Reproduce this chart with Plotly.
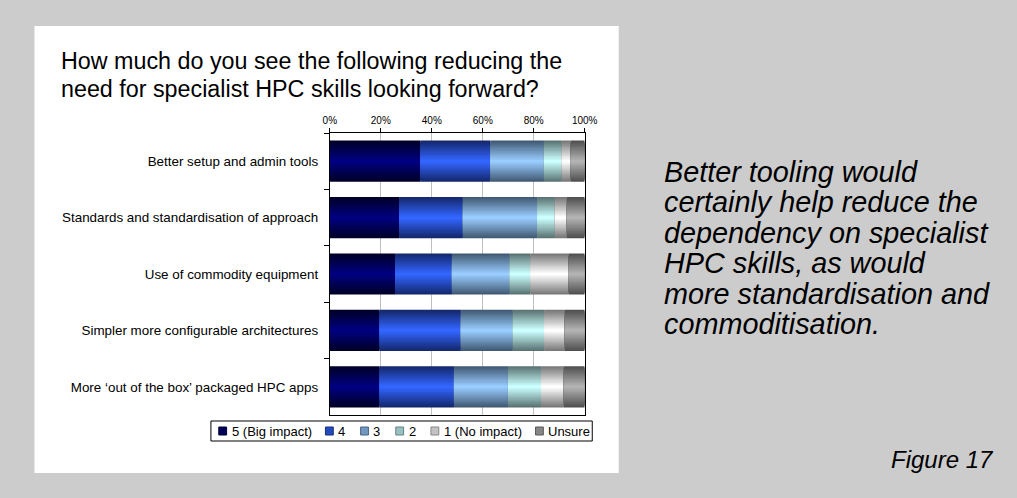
import plotly.graph_objects as go

# Survey items (top to bottom)
categories = [
    "Better setup and admin tools",
    "Standards and standardisation of approach",
    "Use of commodity equipment",
    "Simpler more configurable architectures",
    "More \u2018out of the box\u2019 packaged HPC apps",
]

# Share of respondents (%) per rating, same order as categories
big_impact = [35.5, 27.2, 25.6, 19.5, 19.5]
rating_4 = [27.5, 25.0, 22.3, 31.9, 29.2]
rating_3 = [21.0, 29.2, 22.7, 20.4, 21.2]
rating_2 = [7.0, 6.9, 8.1, 12.3, 13.0]
no_impact = [3.5, 4.7, 15.0, 8.1, 8.9]
unsure = [5.5, 7.0, 6.3, 7.8, 8.2]

series_names = ["5 (Big impact)", "4", "3", "2", "1 (No impact)", "Unsure"]
series_values = [big_impact, rating_4, rating_3, rating_2, no_impact, unsure]

# (edge colour, centre colour) for the banded fill of each rating
series_colors = [
    ((0, 0, 40), (0, 0, 128)),
    ((20, 40, 110), (51, 102, 255)),
    ((65, 90, 115), (153, 204, 255)),
    ((90, 115, 115), (204, 255, 255)),
    ((120, 120, 120), (255, 255, 255)),
    ((80, 80, 80), (179, 179, 179)),
]

W = 1017
H = 498
BAR_WIDTH = 0.73
LAYERS = 16
FONT = "Liberation Sans, Arial, sans-serif"


def px_x(x):
    return x / W


def px_y(y):
    return 1 - y / H


def mix(a, b, t):
    return "rgb({},{},{})".format(*[round(a[i] + (b[i] - a[i]) * t) for i in range(3)])


fig = go.Figure()

# Each segment is drawn as nested bars of shrinking thickness, dark at the
# edges and bright in the middle, giving a banded cylinder look.
bases = [0.0] * len(categories)
for name, vals, (edge, centre) in zip(series_names, series_values, series_colors):
    for k in range(LAYERS):
        t = k / (LAYERS - 1)
        fig.add_trace(go.Bar(
            y=categories,
            x=vals,
            base=bases,
            orientation="h",
            width=BAR_WIDTH * (1 - k / LAYERS),
            marker=dict(color=mix(edge, centre, t), line=dict(width=0)),
            name=name,
            showlegend=False,
            hoverinfo="skip" if k else None,
        ))
    bases = [b + v for b, v in zip(bases, vals)]

# White chart panel on the grey page
shapes = [dict(type="rect", xref="paper", yref="paper", layer="below",
               x0=px_x(28), x1=px_x(624), y0=px_y(473), y1=px_y(26),
               fillcolor="white", line=dict(width=0))]

annotations = []
title_lines = ["How much do you see the following reducing the",
               "need for specialist HPC skills looking forward?"]
for i, line in enumerate(title_lines):
    annotations.append(dict(xref="paper", yref="paper", x=px_x(53), y=px_y(61 + 28 * i),
                            xanchor="left", yanchor="middle", showarrow=False, text=line,
                            font=dict(family=FONT, size=23.3, color="black")))

side_lines = ["Better tooling would", "certainly help reduce the",
              "dependency on specialist", "HPC skills, as would",
              "more standardisation and", "commoditisation."]
for i, line in enumerate(side_lines):
    annotations.append(dict(xref="paper", yref="paper", x=px_x(668), y=px_y(172 + 30.4 * i),
                            xanchor="left", yanchor="middle", showarrow=False,
                            text="<i>" + line + "</i>",
                            font=dict(family=FONT, size=28.8, color="black")))

annotations.append(dict(xref="paper", yref="paper", x=px_x(1009), y=px_y(459),
                        xanchor="right", yanchor="middle", showarrow=False,
                        text="<i>Figure 17</i>",
                        font=dict(family=FONT, size=24, color="black")))

# Legend box below the plot: swatch + label per rating
LEG_FONT = 13
leg_left, leg_right, leg_top, leg_bottom = 208, 597, 421, 441
leg_mid = (leg_top + leg_bottom) / 2
shapes.append(dict(type="rect", xref="paper", yref="paper",
                   x0=px_x(leg_left), x1=px_x(leg_right), y0=px_y(leg_bottom), y1=px_y(leg_top),
                   fillcolor="white", line=dict(color="black", width=1)))
char_w = {"5": .556, "4": .556, "3": .556, "2": .556, "1": .556, " ": .278, "(": .333, ")": .333,
          "B": .667, "i": .222, "g": .556, "m": .833, "p": .556, "a": .556, "c": .5, "t": .278,
          "N": .722, "o": .556, "U": .722, "n": .556, "s": .5, "u": .556, "r": .333, "e": .556}
text_w = [sum(char_w.get(ch, .556) for ch in nm) * LEG_FONT for nm in series_names]
sw, sw_gap = 8, 3
first_x, last_end = 216, 592
gap = ((last_end - first_x) - sum(text_w) - len(series_names) * (sw + sw_gap)) / (len(series_names) - 1)
xpos = first_x
for name, tw, (edge, centre) in zip(series_names, text_w, series_colors):
    shapes.append(dict(type="rect", xref="paper", yref="paper",
                       x0=px_x(xpos), x1=px_x(xpos + sw),
                       y0=px_y(leg_mid + sw / 2), y1=px_y(leg_mid - sw / 2),
                       fillcolor=mix(edge, centre, 0.55), line=dict(color=mix(edge, centre, 0.1), width=1)))
    annotations.append(dict(xref="paper", yref="paper", x=px_x(xpos + sw + sw_gap), y=px_y(leg_mid),
                            xanchor="left", yanchor="middle", showarrow=False, text=name,
                            font=dict(family=FONT, size=LEG_FONT, color="black")))
    xpos += sw + sw_gap + tw + gap

fig.update_layout(
    width=W, height=H,
    margin=dict(l=0, r=0, t=0, b=0),
    paper_bgcolor="#cccccc",
    plot_bgcolor="white",
    barmode="overlay",
    font=dict(family=FONT, color="black"),
    shapes=shapes,
    annotations=annotations,
    showlegend=False,
    xaxis=dict(domain=[px_x(329.3), px_x(589.3)], range=[0, 100], side="top",
               tickvals=[0, 20, 40, 60, 80, 100],
               ticktext=["0%", "20%", "40%", "60%", "80%", "100%"],
               ticks="outside", ticklen=4, tickcolor="black",
               showline=True, linecolor="black", linewidth=1, mirror=True,
               showgrid=True, gridcolor="#c0c0c0", gridwidth=1, zeroline=False,
               tickfont=dict(size=10), fixedrange=True),
    yaxis=dict(domain=[px_y(415), px_y(133)], autorange="reversed", type="category",
               ticks="outside", tickson="boundaries", ticklen=5, tickcolor="black",
               ticklabelstandoff=8,
               showline=True, linecolor="black", linewidth=1, mirror=True,
               showgrid=False, tickfont=dict(size=13.4), fixedrange=True),
)

fig.write_html("out.html")
